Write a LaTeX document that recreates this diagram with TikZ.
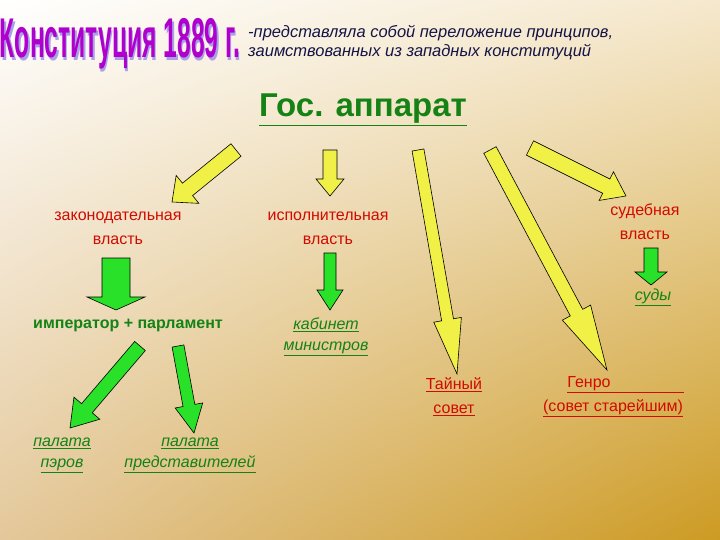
\documentclass[tikz,border=0pt]{standalone}
\usepackage{fontspec}
\setmainfont{Liberation Sans}
\usetikzlibrary{calc,shadings}
\definecolor{ttl}{RGB}{175,0,205}
\definecolor{ttlsh}{RGB}{170,160,230}
\definecolor{rd}{RGB}{210,10,0}
\definecolor{gr}{RGB}{20,130,20}
\definecolor{ylw}{RGB}{240,240,70}
\definecolor{grn}{RGB}{40,225,40}
\definecolor{navy}{RGB}{20,20,70}
\definecolor{bgur}{RGB}{245,232,205}
\definecolor{bgll}{RGB}{228,200,155}
\definecolor{bglr}{RGB}{205,155,35}
\newcommand{\blockarr}[6]{%
 \path let \p1=(#1),\p2=(#2),\n1={atan2(\y2-\y1,\x2-\x1)},\n2={veclen(\x2-\x1,\y2-\y1)} in
 [draw=black,line width=0.6pt,fill=#6,shift={(\p1)},rotate=\n1]
 (0pt,-#3pt) -- (\n2-#5pt,-#3pt) -- (\n2-#5pt,-#4pt) -- (\n2,0pt) -- (\n2-#5pt,#4pt) -- (\n2-#5pt,#3pt) -- (0pt,#3pt) -- cycle;}
\newcommand{\ttltext}{\fontsize{56}{56}\selectfont\bfseries Конституция 1889 г.}
\begin{document}
\begin{tikzpicture}[x=1pt,y=-1pt,
 lbl/.style={align=center,font=\fontsize{16}{24}\selectfont,inner sep=0pt},
 rdt/.style={lbl,text=rd},
 grt/.style={lbl,text=gr}]
\useasboundingbox (0,0) rectangle (720,540);
\shade[upper left=white,upper right=bgur,lower left=bgll,lower right=bglr] (0,0) rectangle (720,540);
% title
\node (t) at (120,45) {\scalebox{0.44}[1]{\rlap{\kern3pt\raisebox{-3pt}{\color{ttlsh}\ttltext}}\color{ttl}\ttltext}};
\node[anchor=west,align=left,text=navy,font=\fontsize{16.5}{19}\selectfont\itshape,inner sep=0pt] (d) at (248,43) {-представляла собой переложение принципов,\\заимствованных из западных конституций};
\node[text=gr,font=\fontsize{33}{33}\selectfont\bfseries,inner sep=0pt] (g) at (363,110) {\underline{Гос. аппарат}};
\node[rdt] (z) at (118,228) {законодательная\\власть};
\node[rdt] (i) at (328,228) {исполнительная\\власть};
\node[rdt] (s) at (645,222) {судебная\\власть};
\node[grt,font=\fontsize{16}{23}\selectfont\itshape] (sud) at (653,297) {\underline{суды}};
\node[grt,font=\fontsize{16}{23}\selectfont\bfseries] (ip) at (128,325) {император + парламент};
\node[grt,font=\fontsize{16}{21}\selectfont\itshape] (k) at (326,337) {\underline{кабинет}\\\underline{министров}};
\node[rdt] (ts) at (454,397) {\underline{Тайный}\\\underline{совет}};
\node[rdt] (ge) at (613,397) {\hspace*{1.6em}\underline{Генро\hspace{4.6em}}\\\underline{(совет старейшим)}};
\node[grt,font=\fontsize{16}{21}\selectfont\itshape] (pp) at (62,455) {\underline{палата}\\\underline{пэров}};
\node[grt,font=\fontsize{16}{21}\selectfont\itshape] (pr) at (190,455) {\underline{палата}\\\underline{представителей}};
% arrow end points
\coordinate (a1) at (236,150); \coordinate (b1) at (172,202);
\coordinate (a2) at (330,150); \coordinate (b2) at (330,196);
\coordinate (a3) at (418,150); \coordinate (b3) at (457,374);
\coordinate (a4) at (490,150); \coordinate (b4) at (607,370);
\coordinate (a5) at (530,148); \coordinate (b5) at (626,196);
\coordinate (a6) at (116,258); \coordinate (b6) at (116,310);
\coordinate (a7) at (330,253); \coordinate (b7) at (330,310);
\coordinate (a8) at (140,346); \coordinate (b8) at (70,428);
\coordinate (a9) at (178,346); \coordinate (b9) at (194,433);
\coordinate (a10) at (651,248); \coordinate (b10) at (651,285);
\blockarr{a1}{b1}{8}{18}{20}{ylw}
\blockarr{a2}{b2}{7}{14}{17}{ylw}
\blockarr{a3}{b3}{6}{14}{55}{ylw}
\blockarr{a4}{b4}{7}{16}{65}{ylw}
\blockarr{a5}{b5}{8}{16}{22}{ylw}
\blockarr{a6}{b6}{14}{29}{13}{grn}
\blockarr{a7}{b7}{6}{13}{20}{grn}
\blockarr{a8}{b8}{7}{17}{26}{grn}
\blockarr{a9}{b9}{6}{14}{28}{grn}
\blockarr{a10}{b10}{7}{16}{13}{grn}
\end{tikzpicture}
\end{document}
